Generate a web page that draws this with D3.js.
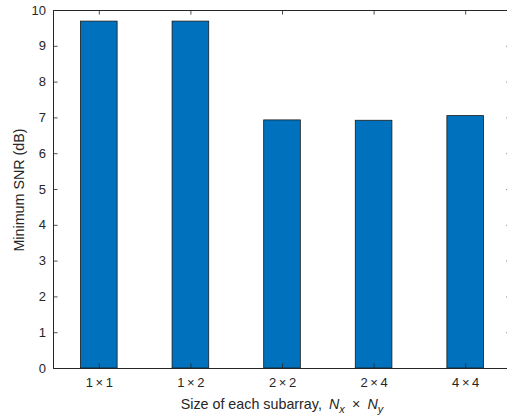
<!DOCTYPE html>
<html>
<head>
<style>
  body { margin: 0; background: #fff; }
  text { font-family: "Liberation Sans", Arial, Helvetica, sans-serif; fill: #262626; }
</style>
</head>
<body>
<div class="graph"></div>
<script src="https://d3js.org/d3.v7.min.js"></script>
<script>
    var categories = ['1×1', '1×2', '2×2', '2×4', '4×4']
    var minSnr = [9.69, 9.69, 6.93, 6.92, 7.05]
    var yTicks = [0, 1, 2, 3, 4, 5, 6, 7, 8, 9, 10]

    var width = 507,
        height = 420
    var margin = { left: 53, top: 10, right: 511, bottom: 368 }
    var tickLen = 4.6

    var svg = d3.select('.graph').append('svg')
        .attr('width', width)
        .attr('height', height)

    var x = d3.scaleLinear()
        .domain([0.5, 5.5])
        .range([margin.left, margin.right])

    var y = d3.scaleLinear()
        .domain([0, 10])
        .range([margin.bottom, margin.top])

    var barW = 0.4

    // bars
    svg.append('g').selectAll('rect')
        .data(minSnr)
        .enter().append('rect')
        .attr('x', function (d, i) { return x(i + 1 - barW / 2) })
        .attr('width', function () { return x(1 + barW / 2) - x(1 - barW / 2) })
        .attr('y', function (d) { return y(d) })
        .attr('height', function (d) { return y(0) - y(d) })
        .style('fill', '#0072BD')
        .style('stroke', '#1a1a1a')
        .style('stroke-width', 0.8)

    // axes (MATLAB style, ticks inward, box on)
    var axisColor = '#262626'
    svg.append('g')
        .attr('transform', 'translate(0,' + margin.bottom + ')')
        .call(d3.axisBottom(x).tickValues([1, 2, 3, 4, 5])
            .tickFormat(function (d) { return categories[d - 1].replace('×', '\u2009×\u2009') })
            .tickSizeInner(-tickLen).tickSizeOuter(0).tickPadding(10))
    svg.append('g')
        .attr('transform', 'translate(' + margin.left + ',0)')
        .call(d3.axisLeft(y).tickValues(yTicks)
            .tickSizeInner(-tickLen).tickSizeOuter(0).tickPadding(7))
    svg.append('g')
        .attr('transform', 'translate(0,' + margin.top + ')')
        .call(d3.axisTop(x).tickValues([1, 2, 3, 4, 5])
            .tickFormat('').tickSizeInner(-tickLen).tickSizeOuter(0))
    svg.append('g')
        .attr('transform', 'translate(' + margin.right + ',0)')
        .call(d3.axisRight(y).tickValues(yTicks)
            .tickFormat('').tickSizeInner(-tickLen).tickSizeOuter(0))

    svg.selectAll('.domain').style('stroke', axisColor).style('stroke-width', 1)
    svg.selectAll('.tick line').style('stroke', axisColor).style('stroke-width', 0.8)
    svg.selectAll('.tick text').style('font-size', '13px').style('fill', axisColor)
        .style('font-family', '"Liberation Sans", Arial, sans-serif')

    // y label
    svg.append('text')
        .attr('transform', 'translate(24,' + ((margin.top + margin.bottom) / 2 + 1) + ') rotate(-90)')
        .attr('text-anchor', 'middle')
        .style('font-size', '14.3px')
        .text('Minimum SNR (dB)')

    // x label
    var xl = svg.append('text')
        .attr('x', 282)
        .attr('y', 409)
        .attr('text-anchor', 'middle')
        .style('font-size', '14.3px')
    xl.append('tspan').text('Size of each subarray,\u2002')
    xl.append('tspan').style('font-style', 'italic').text('N')
    xl.append('tspan').style('font-style', 'italic').style('font-size', '11px').attr('dy', 4).text('x')
    xl.append('tspan').attr('dy', -4).text('\u2002×\u2002')
    xl.append('tspan').style('font-style', 'italic').text('N')
    xl.append('tspan').style('font-style', 'italic').style('font-size', '11px').attr('dy', 4).text('y')
</script>
</body>
</html>
